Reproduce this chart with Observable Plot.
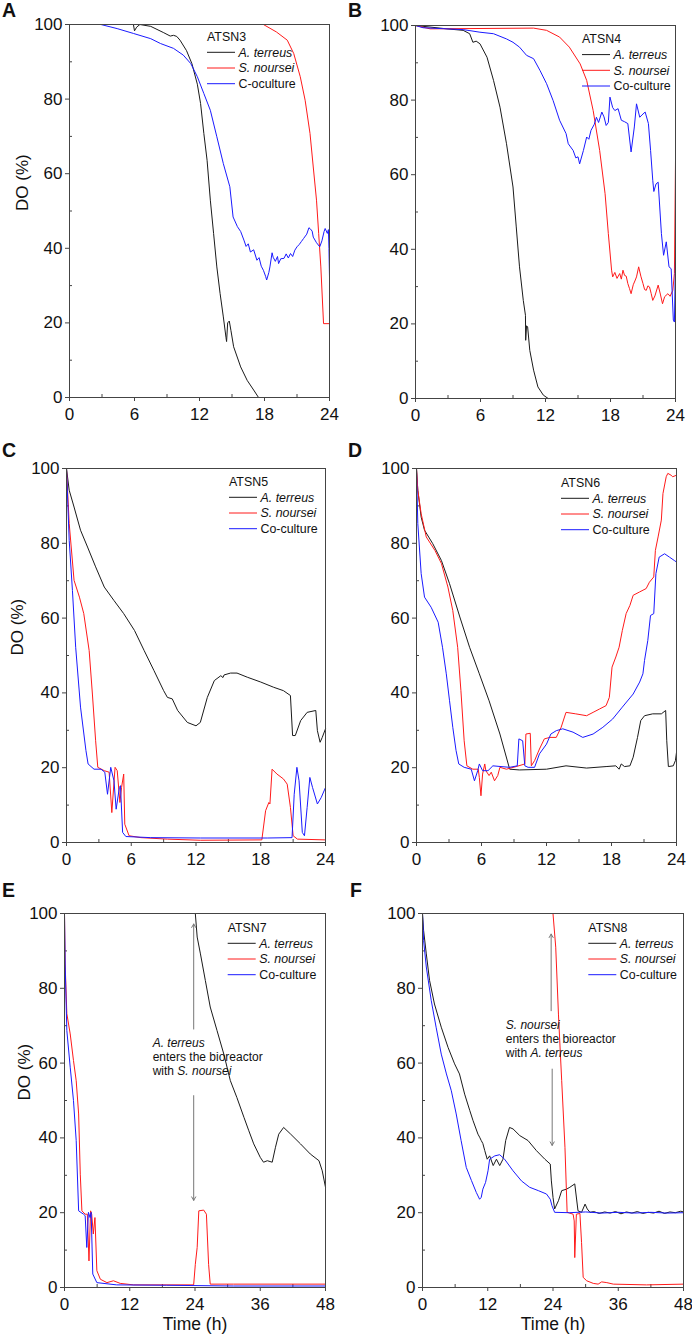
<!DOCTYPE html>
<html><head><meta charset="utf-8">
<script src="https://cdn.jsdelivr.net/npm/d3@7"></script>
<script src="https://cdn.jsdelivr.net/npm/@observablehq/plot@0.6"></script>
<style>
body{margin:0;background:#fff;font-family:"Liberation Sans",Arial,sans-serif;}
#fig{position:relative;width:692px;height:1340px;background:#fff;}
.panel{position:absolute;}
</style></head><body><div id="fig"></div><script>
// ---------- data: [time (h), DO (%)] ----------
const atsn3Terreus = [[0,100],[5.9,100],[6.0,98.3],[6.2,99.3],[6.5,100],[7.5,99.5],[8.7,97.8],[9.3,96.9],[9.6,97.1],[9.9,96.8],[10.2,95.8],[10.8,93],[11.3,89.5],[11.8,84],[12.1,78.8],[12.4,70.8],[12.7,63.6],[13.0,52.9],[13.3,44],[13.6,35],[13.9,27.9],[14.2,21.6],[14.45,16],[14.5,15],[14.6,20],[14.75,20.5],[14.9,18],[15.15,13.6],[15.8,8.2],[16.4,4.6],[17.0,2],[17.45,0],[24,0]];
const atsn3Noursei = [[0,100],[17.9,100],[19.1,98],[20.1,95.8],[20.7,92.2],[21.3,86],[21.75,79.7],[22.2,70.8],[22.5,61.8],[22.8,52.9],[23.0,44],[23.2,35],[23.45,19.8],[24,19.8]];
const atsn3Coculture = [[0,100],[2.9,100],[4.4,98.9],[5.9,97.6],[7.5,96.2],[8.4,94.9],[9.6,93.6],[10.5,91.8],[11.2,89.5],[11.8,86],[12.4,81.5],[13.0,77],[13.6,69.9],[14.2,62.7],[14.8,56.5],[15.1,48.4],[15.5,45.8],[15.8,44.5],[16.1,42.2],[16.3,40.5],[16.5,41.2],[16.7,39],[17.0,39.6],[17.3,36.8],[17.5,37.5],[17.7,35.2],[17.9,34.1],[18.1,32.5],[18.2,31.5],[18.4,33.5],[18.5,35],[18.7,38.8],[18.8,37.6],[19.0,36.5],[19.2,37.8],[19.3,35.9],[19.5,37.2],[19.8,37.3],[20.0,38.5],[20.2,37.4],[20.4,38.6],[20.6,37.8],[20.8,39.5],[21.0,40.4],[21.2,41],[21.4,41.8],[21.6,42.6],[21.9,43.8],[22.1,45.5],[22.2,45.3],[22.4,44.6],[22.5,43],[22.8,41.5],[23.1,40.4],[23.3,42],[23.5,44.5],[23.6,45.3],[23.8,44],[23.9,45],[23.95,40],[24,32.3]];

const atsn4Terreus = [[0,100],[2.9,99.1],[4.4,98.7],[5.0,97.8],[5.3,95.5],[5.6,95.8],[5.95,95.1],[6.6,91.5],[7.2,85.3],[7.8,78.1],[8.4,68.3],[9.0,56.7],[9.3,46],[9.6,35.3],[9.95,26.3],[10.15,22.3],[10.17,15.6],[10.25,19.5],[10.35,19.2],[10.55,12.9],[10.9,7.6],[11.3,3.1],[11.8,0.9],[12.25,0],[24,0]];
const atsn4Noursei = [[0,100],[1.35,99.1],[10.9,99.3],[12.1,98.7],[13.3,96.9],[14.2,94.2],[15.2,89.7],[15.8,85.3],[16.4,77.2],[17.0,66.5],[17.5,54.9],[17.8,44.2],[18.1,34.4],[18.2,32.6],[18.4,33.8],[18.6,32.2],[18.85,33.5],[19.0,32],[19.15,34.4],[19.3,33],[19.45,32.8],[19.6,30.8],[19.75,29.5],[19.9,28.1],[20.1,30.5],[20.25,31.5],[20.4,32.6],[20.6,35.3],[20.8,32.8],[21.0,30.8],[21.15,29.2],[21.3,29],[21.45,30.2],[21.6,29.9],[21.75,28.2],[21.9,26.3],[22.1,27.5],[22.4,30.4],[22.6,28],[22.8,25.4],[23.0,27.3],[23.3,28.1],[23.5,27.4],[23.75,29],[23.9,33.5],[24,63.8]];
const atsn4Coculture = [[0,100],[0.7,99.4],[4.4,98.9],[5.95,98.2],[7.2,97.8],[8.4,96.4],[9.0,95.5],[9.6,94.2],[10.25,92],[10.9,91.1],[11.5,87.9],[12.1,84.4],[12.7,79.9],[13.3,74.6],[13.9,71],[14.1,68.3],[14.55,66.5],[14.8,64.5],[15.0,64.8],[15.15,62.9],[15.5,66.5],[15.8,70.1],[16.0,69.5],[16.2,71.9],[16.5,73.5],[16.7,75.4],[16.9,74],[17.2,76.8],[17.4,75.5],[17.6,73.2],[17.8,74],[17.95,80.8],[18.2,78],[18.4,77.2],[18.7,77.7],[19.0,74.6],[19.3,74.2],[19.6,73.7],[19.9,66.1],[20.2,72.8],[20.4,79],[20.7,75.4],[20.9,76],[21.2,76.8],[21.5,73.7],[21.7,66.5],[21.9,58.5],[22.0,55.5],[22.2,57.5],[22.4,58],[22.7,44.2],[22.9,38.4],[23.15,42],[23.4,35.3],[23.6,34.8],[23.8,21],[23.9,20.5],[24,38]];

const atsn5Terreus = [[0,100],[0.25,94.2],[0.7,89.7],[1.3,83.5],[1.95,79],[2.7,73.7],[3.5,68.3],[4.4,64.7],[5.3,61.2],[6.3,56.7],[7.2,51.3],[8.1,46],[9.0,40.6],[9.35,38.8],[9.8,38.4],[10.3,35.3],[11.2,32.1],[12.0,31.2],[12.4,32.1],[13.05,38.8],[13.7,43.3],[14.3,44.6],[14.5,44.1],[14.6,44.8],[15.2,45.3],[15.8,45.3],[16.75,44.2],[18.0,42.9],[19.2,41.5],[20.1,40.6],[20.75,39.3],[20.95,28.6],[21.2,28.6],[21.7,32.6],[22.3,34.8],[23.1,35.3],[23.25,29.9],[23.5,26.8],[23.7,28.1],[24,30.4]];
const atsn5Noursei = [[0,100],[0.25,85.3],[0.7,70.1],[1.2,65.6],[1.6,61.2],[2.1,51.3],[2.4,39.7],[2.7,27.2],[2.9,20.1],[3.5,19.2],[3.95,18.8],[4.2,8],[4.5,20.1],[4.7,19.2],[4.95,10.7],[5.1,14.7],[5.3,18.3],[5.4,4.9],[5.8,1.8],[6.9,1.3],[9.35,0.9],[12.4,0.6],[18.1,0.7],[18.45,8.5],[18.75,10.7],[18.85,10.3],[19.05,19.6],[19.5,18.3],[20.1,17],[20.45,15.6],[20.75,9.4],[21.0,1.8],[21.4,0.9],[24,0.7]];
const atsn5Coculture = [[0,100],[0.25,80.8],[0.55,67.4],[0.85,52.2],[1.3,36.2],[1.8,24.6],[2.0,21],[2.55,19.6],[3.2,19.6],[3.55,18.8],[3.8,12.9],[4.1,20.1],[4.4,16.5],[4.6,8.9],[4.9,14.7],[5.0,15.2],[5.2,2.7],[5.5,1.6],[7.8,1.3],[12.4,1.2],[18.6,1.2],[20.9,1.3],[21.1,12.9],[21.35,20.1],[21.55,16.5],[21.85,2.7],[22.05,1.8],[22.3,9.4],[22.55,17.4],[22.8,14.7],[23.25,10.3],[23.6,12],[24,14.7]];

const atsn6Terreus = [[0,100],[0.12,94.2],[0.43,87],[0.74,83.5],[1.5,79.9],[2.3,75.4],[3.05,69.2],[4.0,60.3],[4.9,52.2],[5.8,45.1],[6.7,37.9],[7.7,29],[8.6,19.6],[9.5,19.4],[12.0,19.6],[13.8,20.5],[15.7,19.9],[17.5,20.3],[18.4,20.5],[18.7,19.6],[18.9,21],[19.2,20.3],[19.7,20.5],[20.0,22.8],[20.4,28.1],[20.7,32.6],[21.05,33.9],[21.8,34.4],[22.6,34.4],[23.0,35.3],[23.1,27.2],[23.25,20.3],[23.7,20.5],[23.9,21.9],[24,24.1]];
const atsn6Noursei = [[0,100],[0.12,94.2],[0.43,87.9],[0.9,81.7],[1.7,78.1],[2.3,74.6],[2.9,68.3],[3.35,62],[3.8,52.2],[4.1,40.6],[4.4,27.2],[4.65,20.5],[5.2,19.6],[5.7,19.6],[5.8,17.4],[5.95,12.5],[6.1,18.3],[6.3,21],[6.4,19.2],[6.7,17.9],[6.9,18.8],[7.2,16.5],[7.5,17.9],[7.7,20.1],[8.3,19.6],[9.2,20.3],[10.0,21],[10.1,29],[10.5,29.2],[10.6,20.5],[10.9,21.9],[11.35,25],[11.8,27.7],[12.3,28.1],[12.9,28.1],[13.35,30.8],[13.8,34.8],[14.7,34.4],[15.7,33.9],[16.3,34.8],[16.9,35.7],[17.5,36.6],[17.8,38.8],[18.05,46.9],[18.4,49.6],[18.7,52.2],[19.0,56.7],[19.35,61.2],[19.7,63.4],[20.0,66.1],[20.6,67],[21.2,67.9],[21.5,69.6],[21.9,71],[22.05,78.1],[22.3,81.7],[22.6,86.2],[22.75,93.3],[23.05,97.8],[23.2,98.7],[23.5,98.2],[23.65,97.8],[24,98.2]];
const atsn6Coculture = [[0,100],[0.12,85.3],[0.43,71.9],[0.74,65.6],[1.35,62.9],[2.0,58.9],[2.4,52.2],[2.75,45.1],[3.05,37.9],[3.35,30.8],[3.65,24.6],[3.9,21],[4.4,20.1],[5.05,19.6],[5.35,16.5],[5.65,19.2],[5.8,21],[6.1,19.2],[6.6,19.2],[7.05,20.5],[7.8,20.3],[8.6,20.1],[9.3,20.5],[9.45,27.7],[9.8,27.2],[10.0,20.5],[10.3,20.1],[10.9,20.1],[11.35,23.7],[12.0,26.3],[12.4,29],[12.9,29.9],[13.5,30.4],[14.45,29.5],[15.35,28.1],[16.3,29],[17.2,30.8],[18.1,33],[19.0,36.2],[20.0,39.7],[20.6,42.9],[20.9,45.1],[21.05,48.7],[21.35,54],[21.6,60.7],[21.9,61.2],[22.1,71.9],[22.4,76.3],[22.9,77.2],[23.35,76.3],[23.8,75.4],[24,75]];

const atsn7Terreus = [[24.06,100],[24.4,93.7],[25.0,89.2],[25.9,82.1],[26.8,75],[28.05,68.7],[29.3,62.4],[30.5,55.3],[31.7,50.8],[33.0,45.5],[33.9,41.9],[34.8,38.4],[36.0,34.8],[36.6,33.5],[37.3,33.9],[38.2,33.5],[38.8,37.5],[39.4,41],[40.3,42.8],[41.6,41],[43.4,38.4],[45.2,35.7],[46.8,33.9],[47.4,31.2],[48,26.8]];
const atsn7Noursei = [[0,100],[0.12,86.5],[0.43,73.2],[1.05,67.8],[1.65,60.7],[2.15,55.3],[2.6,46.4],[2.9,30.3],[3.2,20.5],[3.8,19.6],[4.2,19.6],[4.5,7.1],[4.8,20.5],[5.0,19.6],[5.3,14.3],[5.6,18.7],[5.95,4.5],[6.6,2.2],[7.8,1.3],[9.0,1.8],[10.25,1.1],[12.7,0.7],[23.75,0.7],[24.06,6.2],[24.4,10.7],[24.7,20.5],[25.6,20.7],[26.1,19.6],[26.5,6.2],[26.8,0.9],[31.1,0.9],[48,0.9]];
const atsn7Coculture = [[0,100],[0.12,86.5],[0.43,68.7],[1.05,58.9],[1.65,50],[2.15,39.3],[2.6,20.5],[3.5,19.6],[3.8,19.2],[4.1,10.7],[4.4,20.1],[4.7,18.7],[4.9,20.1],[5.2,3.6],[5.95,1.3],[9.6,0.7],[18.8,0.6],[31.1,0.4],[48,0.4]];

const atsn8Terreus = [[0,100],[0.2,95.5],[0.7,89.2],[1.3,82.1],[2.2,75.8],[3.45,69.6],[4.7,64.2],[5.9,59.8],[6.8,57.1],[7.75,51.7],[8.7,47.3],[9.3,44.6],[10.2,41],[10.5,40.2],[10.8,39.3],[11.1,38.5],[11.45,36.6],[11.9,34.3],[12.35,35.2],[13.0,32.6],[13.6,34.3],[14.2,32.6],[14.8,34.3],[15.3,39.3],[16.0,42.8],[16.65,42.4],[17.9,40.6],[19.4,39.3],[20.95,36.6],[22.5,34.3],[23.5,33],[23.7,28.5],[24.0,24.1],[24.3,21],[25.0,23.2],[25.6,25.9],[26.5,26.3],[27.1,26.8],[28.0,27.7],[28.6,20.5],[29.25,20.1],[29.9,22.3],[30.3,21],[30.8,20.1],[31.5,20.3],[32.5,19.8],[33.5,20.2],[34.5,19.9],[35.5,20.3],[36.5,19.7],[37.5,20.2],[38.5,19.9],[39.5,20.3],[40.5,19.8],[41.5,20.1],[42.5,19.9],[43.5,20.4],[44.5,19.8],[45.5,20.2],[46.5,20.0],[47.5,20.4],[48,20.2]];
const atsn8Noursei = [[24.0,100],[24.5,91],[25.0,73.1],[25.6,55.3],[26.2,37.5],[26.6,20.1],[27.7,19.6],[27.9,17.8],[28.0,8],[28.3,19.6],[28.95,19.8],[29.25,12],[29.55,2.7],[30.2,1.8],[31.4,1.1],[32.3,0.9],[32.95,1.5],[33.9,1.3],[35.1,0.9],[41.2,0.7],[48,0.9]];
const atsn8Coculture = [[0,100],[0.2,92.8],[0.7,85.7],[1.6,76.8],[2.5,69.6],[3.45,62.4],[4.4,57.1],[5.3,52.6],[6.2,46.4],[7.1,39.3],[8.05,32.1],[9.0,28.6],[9.9,25.4],[10.5,23.6],[10.8,24.1],[11.1,26.3],[11.6,28.1],[12.05,31.2],[12.35,34.3],[13.3,35.2],[14.2,35.5],[15.1,34.3],[16.65,31.2],[18.2,28.5],[19.7,26.8],[21.3,25.9],[22.8,25],[23.5,23.6],[23.8,21.9],[24.3,20.1],[27,20],[30,20.2],[33,19.9],[36,20.1],[39,19.9],[42,20.1],[45,19.9],[48,20]];

// ---------- labels / ticks ----------
const seriesColors = ["#1a1a1a", "#ff1a1a", "#1a1aff"];
const legendLabelsA = ["A. terreus", "S. noursei", "C-oculture"];
const legendLabels = ["A. terreus", "S. noursei", "Co-culture"];
const legendItalic = [true, true, false];
const yTicks = [0, 20, 40, 60, 80, 100];
const yMinor = [10, 30, 50, 70, 90];
const xTicks24 = [0, 6, 12, 18, 24];
const xMinor24 = [3, 9, 15, 21];
const xTicks48 = [0, 12, 24, 36, 48];
const xMinor48 = [6, 18, 30, 42];

// annotations (data coordinates)
const arrowsE = [{x1: 23.76, y1: 69.1, x2: 23.76, y2: 97.2}, {x1: 23.76, y1: 51.3, x2: 23.76, y2: 23.3}];
const arrowsF = [{x1: 23.66, y1: 74, x2: 23.66, y2: 94.5}, {x1: 23.85, y1: 58.4, x2: 23.85, y2: 38}];
const noteE = {x: 16.3, y: 64.2, lines: [[["A. terreus", true]], [["enters the bioreactor", false]], [["with ", false], ["S. noursei", true]]]};
const noteF = {x: 15.4, y: 68.9, lines: [[["S. noursei", true]], [["enters the bioreactor", false]], [["with ", false], ["A. terreus", true]]]};

// ---------- layout ----------
const panels = [
  {letter: "A", title: "ATSN3", left: 0, top: 0, h: 440, m: [24, 17, 43, 69], x24: true, series: [atsn3Terreus, atsn3Noursei, atsn3Coculture], labels: legendLabelsA, leg: [207, 40.7], yLab: 21.7},
  {letter: "B", title: "ATSN4", left: 346, top: 0, h: 440, m: [25, 17, 42, 69], x24: true, series: [atsn4Terreus, atsn4Noursei, atsn4Coculture], labels: legendLabels, leg: [236, 43]},
  {letter: "C", title: "ATSN5", left: 0, top: 440, h: 440, m: [28, 21, 38, 66], x24: true, series: [atsn5Terreus, atsn5Noursei, atsn5Coculture], labels: legendLabels, leg: [229, 45.7], yLab: 17},
  {letter: "D", title: "ATSN6", left: 346, top: 440, h: 440, m: [28, 16, 38, 70], x24: true, series: [atsn6Terreus, atsn6Noursei, atsn6Coculture], labels: legendLabels, leg: [215, 46.7]},
  {letter: "E", title: "ATSN7", left: 0, top: 880, h: 460, m: [33, 21, 53, 64], x24: false, series: [atsn7Terreus, atsn7Noursei, atsn7Coculture], labels: legendLabels, leg: [227.7, 51.7], yLab: 24, xLab: true, arrows: arrowsE, note: noteE},
  {letter: "F", title: "ATSN8", left: 346, top: 880, h: 460, m: [33, 9, 53, 76], x24: false, series: [atsn8Terreus, atsn8Noursei, atsn8Coculture], labels: legendLabels, leg: [242.3, 51.7], xLab: true, arrows: arrowsF, note: noteF, letterX: 4}
];

function decor(p) {
  return () => {
    const g = d3.create("svg:g").attr("font-family", "Liberation Sans, Arial, sans-serif").attr("fill", "#111").attr("text-anchor", "start");
    g.append("text").attr("x", p.letterX ?? 2).attr("y", 17).attr("font-size", 19.5).attr("font-weight", "bold").text(p.letter);
    const [lx, ly] = p.leg;
    const lg = g.append("g").attr("font-size", 12.4);
    lg.append("text").attr("x", lx).attr("y", ly).text(p.title);
    p.labels.forEach((lab, i) => {
      const yy = ly + 11.6 + i * 15.7;
      lg.append("line").attr("x1", lx).attr("x2", lx + 28).attr("y1", yy).attr("y2", yy)
        .attr("stroke", seriesColors[i]).attr("stroke-width", 1);
      lg.append("text").attr("x", lx + 31.5).attr("y", yy).attr("dy", "0.36em")
        .attr("font-style", legendItalic[i] ? "italic" : "normal").text(lab);
    });
    return g.node();
  };
}

function noteMark(note) {
  return (index, scales) => {
    const g = d3.create("svg:g").attr("font-family", "Liberation Sans, Arial, sans-serif").attr("font-size", 12).attr("fill", "#111").attr("text-anchor", "start");
    const x0 = scales.x(note.x), y0 = scales.y(note.y);
    note.lines.forEach((segs, i) => {
      const t = g.append("text").attr("x", x0).attr("y", y0 + i * 14);
      segs.forEach(([s, it]) => t.append("tspan").attr("font-style", it ? "italic" : "normal").text(s));
    });
    return g.node();
  };
}

const fig = document.getElementById("fig");
for (const p of panels) {
  const xt = p.x24 ? xTicks24 : xTicks48;
  const xm = p.x24 ? xMinor24 : xMinor48;
  const marks = [
    Plot.axisY({ticks: yTicks, tickSize: 4, tickPadding: 3, fontSize: 17, label: null, stroke: "#444", fill: "#111"}),
    Plot.axisY({ticks: yMinor, tickSize: -3, tickFormat: () => "", label: null, stroke: "#444"}),
    Plot.axisX({ticks: xt, tickSize: 4, tickPadding: 6, fontSize: 17, label: null, stroke: "#444", fill: "#111"}),
    Plot.axisX({ticks: xm, tickSize: -3, tickFormat: () => "", label: null, stroke: "#444"}),
  ];
  p.series.forEach((s, i) => marks.push(Plot.line(s, {x: d => d[0], y: d => d[1], stroke: seriesColors[i], strokeWidth: 1})));
  if (p.arrows) marks.push(Plot.arrow(p.arrows, {x1: "x1", y1: "y1", x2: "x2", y2: "y2", stroke: "#777", strokeWidth: 1, headLength: 6}));
  if (p.note) marks.push(noteMark(p.note));
  marks.push(Plot.frame({stroke: "#444"}));
  if (p.yLab) marks.push(Plot.text(["DO (%)"], {frameAnchor: "left", rotate: -90, dx: p.yLab - p.m[3], fontSize: 17, fill: "#111"}));
  if (p.xLab) marks.push(Plot.text(["Time (h)"], {frameAnchor: "bottom", dy: 42, fontSize: 17.5, fill: "#111"}));
  marks.push(decor(p));
  const chart = Plot.plot({
    width: 346, height: p.h,
    marginTop: p.m[0], marginRight: p.m[1], marginBottom: p.m[2], marginLeft: p.m[3],
    style: {fontFamily: "Liberation Sans, Arial, sans-serif", background: "white", overflow: "visible", color: "#111"},
    x: {domain: [0, p.x24 ? 24 : 48]},
    y: {domain: [0, 100]},
    marks
  });
  const div = document.createElement("div");
  div.className = "panel";
  div.style.left = p.left + "px";
  div.style.top = p.top + "px";
  div.appendChild(chart);
  fig.appendChild(div);
}
</script></body></html>
